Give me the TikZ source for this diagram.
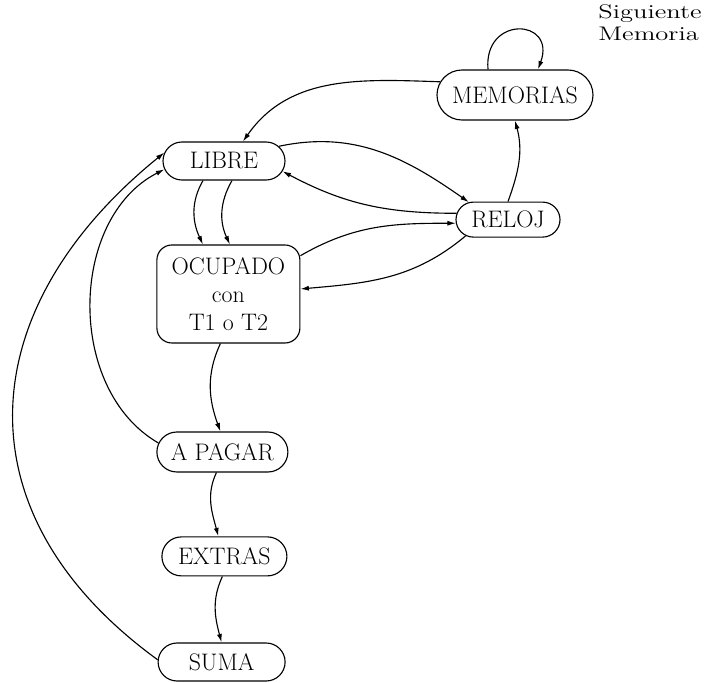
\documentclass[tikz,border=0pt]{standalone}
\usepackage{fontspec}
\usetikzlibrary{shapes.misc,arrows.meta}

\begin{document}
\begin{tikzpicture}[
    estado/.style={rounded rectangle, draw, line width=0.8pt, inner sep=0pt,
      font=\fontsize{17}{20}\selectfont},
    trans/.style={-{Latex[length=6pt,width=3.6pt]}, line width=0.8pt}]
      \useasboundingbox (0,0) rectangle (17.6,17.05);

       %draw states
      \node[estado, minimum width=3.9cm, minimum height=1.25cm] (mem) at (12.875,14.675) {MEMORIAS};
      \node[estado, minimum width=3.05cm, minimum height=0.95cm] (libre) at (5.6,13.025) {LIBRE};
      \node[estado, minimum width=2.6cm, minimum height=0.875cm] (reloj) at (12.7,11.56) {RELOJ};
      \node[draw, line width=0.8pt, rounded corners=0.375cm, minimum width=3.575cm,
        minimum height=2.45cm, align=center, font=\fontsize{17}{20}\selectfont]
        (ocup) at (5.71,9.70) {OCUPADO\\con\\T1 o T2};
      \node[estado, minimum width=3.275cm, minimum height=1.0cm] (apagar) at (5.56,5.75) {A PAGAR};
      \node[estado, minimum width=3.125cm, minimum height=0.975cm] (extras) at (5.61,3.14) {EXTRAS};
      \node[estado, minimum width=3.175cm, minimum height=0.95cm] (suma) at (5.54,0.50) {SUMA};

       %loop label
      \node[anchor=north west, align=left, inner sep=0pt, xscale=1.35, transform shape,
        font=\fontsize{14}{15.6}\selectfont]
        (sig) at (14.95,16.95) {Siguiente\\Memoria};

       %draw transitions
      \draw[trans] ([xshift=-0.675cm]mem.north) to[out=95,in=70,looseness=2.8] ([xshift=0.575cm]mem.north);
      \draw[trans] (mem.170) to[out=178,in=55] ([xshift=0.475cm]libre.north);
      \draw[trans] (reloj.north) to[out=70,in=-75] (mem.south);
      \draw[trans] (libre.15) to[out=12,in=145] (reloj.156);
      \draw[trans] (reloj.173) to[out=180,in=-28] (libre.-10);
      \draw[trans] (ocup.28) to[out=30,in=180] (reloj.184);
      \draw[trans] (reloj.201) to[out=220,in=5] (ocup.4);
      \draw[trans] ([xshift=-0.525cm]libre.south) to[out=-120,in=115] ([xshift=-0.6375cm]ocup.north);
      \draw[trans] ([xshift=0.2cm]libre.south) to[out=-120,in=115] ([xshift=0.0375cm]ocup.north);
      \draw[trans] ([xshift=-0.2cm]ocup.south) to[out=-115,in=110] ([xshift=-0.05cm]apagar.north);
      \draw[trans] ([xshift=-0.15cm]apagar.south) to[out=-115,in=105] ([xshift=-0.15cm]extras.north);
      \draw[trans] ([xshift=-0.05cm]extras.south) to[out=-115,in=105] (suma.north);

       %back to LIBRE
      \draw[trans] (apagar.172) to[out=150,in=-153] (libre.188);
      \draw[trans] (suma.178) to[out=144,in=-141,looseness=1.25] (libre.172);
    \end{tikzpicture}
\end{document}
